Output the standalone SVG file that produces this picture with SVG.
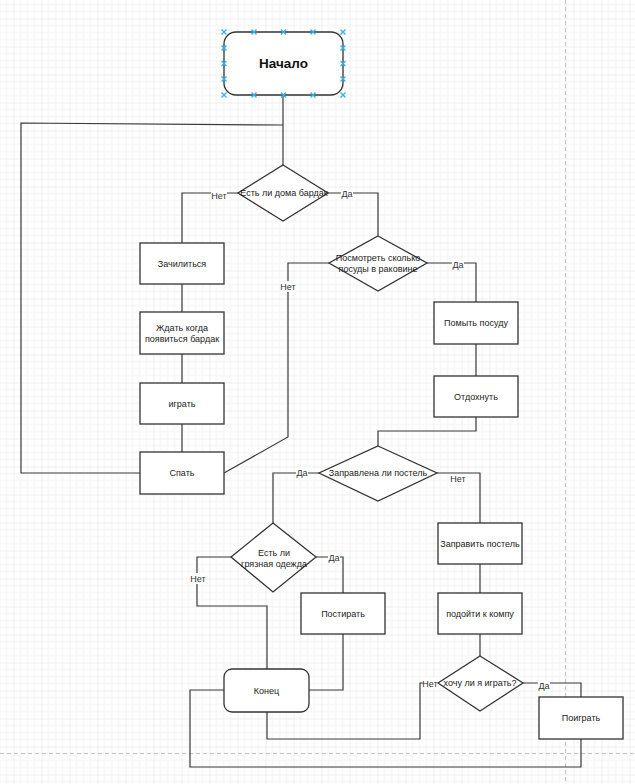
<svg xmlns="http://www.w3.org/2000/svg" width="635" height="784" viewBox="0 0 635 784">
  <style>
    .node { fill: #ffffff; stroke: #333333; stroke-width: 1.3; }
    .edge { fill: none; stroke: #3a3a3a; stroke-width: 1.2; }
    .txt { font-family: "Liberation Sans", Arial, sans-serif; font-size: 9px; fill: #222222; text-anchor: middle; }
    .title { font-family: "Liberation Sans", Arial, sans-serif; font-size: 13.5px; font-weight: bold; fill: #111111; text-anchor: middle; }
    .lbl { font-family: "Liberation Sans", Arial, sans-serif; font-size: 9px; fill: #333333; text-anchor: middle; }
    .lblbg { fill: #ffffff; }
    .handle { stroke: #2fb4ee; stroke-width: 1.3; fill: none; }
    .pagebreak { stroke: #c4c4c4; stroke-width: 1; stroke-dasharray: 4 3; fill: none; }
  </style>
  <defs>
    <pattern id="grid" width="28" height="28" patternUnits="userSpaceOnUse" x="13.5" y="18.5">
      <path d="M7 0V28M14 0V28M21 0V28M0 7H28M0 14H28M0 21H28" stroke="#f3f3f3" stroke-width="1" fill="none"/>
      <path d="M0 0V28M0 0H28" stroke="#dedede" stroke-width="1" fill="none"/>
    </pattern>
    <path id="x" class="handle" d="M-2.5 -2.5L2.5 2.5M-2.5 2.5L2.5 -2.5"/>
  </defs>

  <!-- canvas background -->
  <rect width="635" height="784" fill="#ffffff"/>
  <rect width="635" height="784" fill="url(#grid)"/>
  <path class="pagebreak" d="M565.5 0V784M0 753.5H635"/>

  <!-- connectors -->
  <g id="connectors">
    <path class="edge" d="M283 95V165"/>
    <path class="edge" d="M140 473H21V123L283 125"/>
    <path class="edge" d="M238 193H182V243"/>
    <path class="edge" d="M328 193H378V236"/>
    <path class="edge" d="M182 284V312M182 354V383M182 424V452"/>
    <path class="edge" d="M329 263H288V437L224 473"/>
    <path class="edge" d="M427 263H476V302"/>
    <path class="edge" d="M476 344V376"/>
    <path class="edge" d="M476 417V431H378V446"/>
    <path class="edge" d="M319 473H273V523"/>
    <path class="edge" d="M437 473H480V523"/>
    <path class="edge" d="M480 564V593M480 634V656"/>
    <path class="edge" d="M231 557H197V606H267V669"/>
    <path class="edge" d="M316 557H343V593"/>
    <path class="edge" d="M343 634V690H309"/>
    <path class="edge" d="M267 712V739H420V683H438"/>
    <path class="edge" d="M523 683H581V697"/>
    <path class="edge" d="M581 739V767H190V690H224"/>

    <!-- edge labels -->
    <rect class="lblbg" x="211" y="189" width="16" height="11"/>
    <text class="lbl" x="219" y="196" dy=".35em">Нет</text>
    <rect class="lblbg" x="341" y="188" width="12" height="11"/>
    <text class="lbl" x="347" y="194" dy=".35em">Да</text>
    <rect class="lblbg" x="280" y="281" width="16" height="11"/>
    <text class="lbl" x="288" y="287" dy=".35em">Нет</text>
    <rect class="lblbg" x="452" y="259" width="12" height="11"/>
    <text class="lbl" x="458" y="265" dy=".35em">Да</text>
    <rect class="lblbg" x="296" y="467" width="12" height="11"/>
    <text class="lbl" x="302" y="473" dy=".35em">Да</text>
    <rect class="lblbg" x="450" y="474" width="16" height="11"/>
    <text class="lbl" x="458" y="479" dy=".35em">Нет</text>
    <rect class="lblbg" x="190" y="573" width="16" height="11"/>
    <text class="lbl" x="198" y="579" dy=".35em">Нет</text>
    <rect class="lblbg" x="328" y="553" width="12" height="11"/>
    <text class="lbl" x="334" y="558" dy=".35em">Да</text>
    <rect class="lblbg" x="423" y="678" width="15" height="11"/>
    <text class="lbl" x="430" y="684" dy=".35em">Нет</text>
    <rect class="lblbg" x="538" y="681" width="12" height="11"/>
    <text class="lbl" x="544" y="686" dy=".35em">Да</text>
  </g>

  <!-- start -->
  <g id="start">
    <rect class="node" x="224" y="32" width="119" height="63" rx="12" ry="12"/>
    <text class="title" x="283.5" y="63.5" dy=".35em">Начало</text>
    <use href="#x" x="224" y="32"/><use href="#x" x="254" y="32"/><use href="#x" x="283.5" y="32"/><use href="#x" x="313" y="32"/><use href="#x" x="343" y="32"/>
    <use href="#x" x="224" y="95"/><use href="#x" x="254" y="95"/><use href="#x" x="283.5" y="95"/><use href="#x" x="313" y="95"/><use href="#x" x="343" y="95"/>
    <use href="#x" x="224" y="48"/><use href="#x" x="224" y="63.5"/><use href="#x" x="224" y="79"/>
    <use href="#x" x="343" y="48"/><use href="#x" x="343" y="63.5"/><use href="#x" x="343" y="79"/>
  </g>

  <g id="d-mess">
    <polygon class="node" points="283,165 328,193 283,221 238,193"/>
    <text class="txt" x="284" y="193" dy=".35em">Есть ли дома бардак</text>
  </g>

  <g id="chill">
    <rect class="node" x="140" y="243" width="84" height="41"/>
    <text class="txt" x="182" y="263.5" dy=".35em">Зачилиться</text>
  </g>
  <g id="wait">
    <rect class="node" x="140" y="312" width="84" height="42"/>
    <text class="txt" x="182" y="328" dy=".35em">Ждать когда</text>
    <text class="txt" x="182" y="339" dy=".35em">появиться бардак</text>
  </g>
  <g id="play1">
    <rect class="node" x="140" y="383" width="84" height="41"/>
    <text class="txt" x="182" y="403.5" dy=".35em">играть</text>
  </g>
  <g id="sleep">
    <rect class="node" x="140" y="452" width="84" height="42"/>
    <text class="txt" x="182" y="473" dy=".35em">Спать</text>
  </g>

  <g id="d-dishes">
    <polygon class="node" points="378,236 427,263 378,291 329,263"/>
    <text class="txt" x="378" y="258" dy=".35em">Посмотреть сколько</text>
    <text class="txt" x="378" y="269" dy=".35em">посуды в раковине</text>
  </g>

  <g id="wash">
    <rect class="node" x="434" y="302" width="84" height="42"/>
    <text class="txt" x="476" y="323" dy=".35em">Помыть посуду</text>
  </g>
  <g id="rest">
    <rect class="node" x="434" y="376" width="84" height="41"/>
    <text class="txt" x="476" y="396.5" dy=".35em">Отдохнуть</text>
  </g>

  <g id="d-bed">
    <polygon class="node" points="378,446 437,473 378,501 319,473"/>
    <text class="txt" x="378" y="473" dy=".35em">Заправлена ли постель</text>
  </g>

  <g id="d-clothes">
    <polygon class="node" points="273,523 316,557 273,592 231,557"/>
    <text class="txt" x="274" y="553" dy=".35em">Есть ли</text>
    <text class="txt" x="274" y="563.5" dy=".35em">грязная одежда</text>
  </g>

  <g id="laundry">
    <rect class="node" x="301" y="593" width="84" height="41"/>
    <text class="txt" x="343" y="613.5" dy=".35em">Постирать</text>
  </g>

  <g id="make-bed">
    <rect class="node" x="438" y="523" width="84" height="41"/>
    <text class="txt" x="480" y="543.5" dy=".35em">Заправить постель</text>
  </g>
  <g id="to-pc">
    <rect class="node" x="438" y="593" width="84" height="41"/>
    <text class="txt" x="480" y="613.5" dy=".35em">подойти к компу</text>
  </g>

  <g id="d-play">
    <polygon class="node" points="480,656 523,683 480,711 438,683"/>
    <text class="txt" x="480" y="683" dy=".35em">хочу ли я играть?</text>
  </g>

  <g id="play2">
    <rect class="node" x="539" y="697" width="84" height="42"/>
    <text class="txt" x="581" y="718" dy=".35em">Поиграть</text>
  </g>

  <g id="end">
    <rect class="node" x="224" y="669" width="85" height="43" rx="8" ry="8"/>
    <text class="txt" x="266.5" y="690.5" dy=".35em">Конец</text>
  </g>
</svg>
